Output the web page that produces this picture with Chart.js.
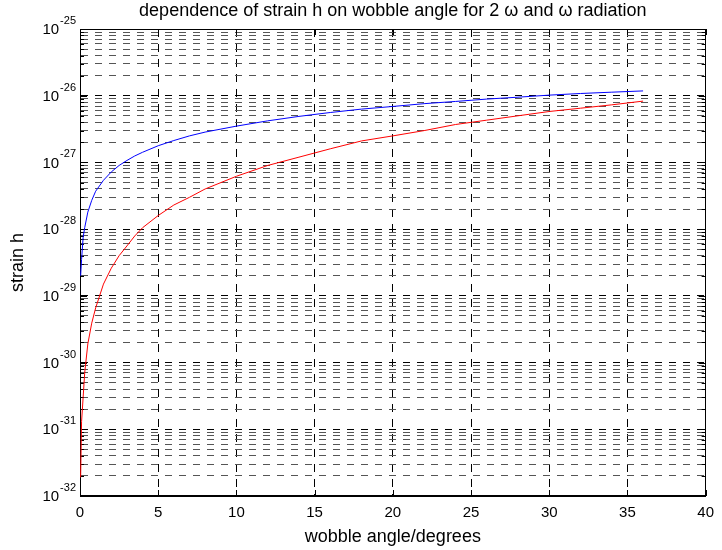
<!DOCTYPE html>
<html>
<head>
<meta charset="utf-8">
<script src="https://cdn.jsdelivr.net/npm/chart.js@4.4.0/dist/chart.umd.min.js"></script>
<style>
  html, body { margin: 0; padding: 0; background: #fff; }
  #wrap { width: 722px; height: 550px; }
</style>
</head>
<body>
<div id="wrap"><canvas id="strain"></canvas></div>
<script>
const FONT = '"Liberation Sans", Arial, Helvetica, sans-serif';

// wobble angle in degrees
const angles = [0.04, 0.1, 0.2, 0.3, 0.5, 0.75, 1, 1.5, 2, 2.5, 3, 3.5, 4, 5, 6, 7, 8,
  10, 12, 14, 16, 18, 20, 22, 24, 26, 28, 30, 32, 34, 36];

// blue curve (upper)
const strainBlue = [2.0e-29, 3.5e-29, 7.5e-29, 1.05e-28, 1.8e-28, 2.7e-28, 3.7e-28, 5.4e-28,
  7.2e-28, 9.0e-28, 1.07e-27, 1.25e-27, 1.42e-27, 1.78e-27, 2.13e-27, 2.5e-27, 2.85e-27,
  3.5e-27, 4.2e-27, 4.9e-27, 5.6e-27, 6.3e-27, 6.9e-27, 7.6e-27, 8.2e-27, 8.9e-27,
  9.5e-27, 1.02e-26, 1.08e-26, 1.13e-26, 1.18e-26];

// red curve (lower)
const strainRed = [1.9e-32, 1.3e-31, 3.0e-31, 7.0e-31, 1.9e-30, 3.9e-30, 6.6e-30, 1.5e-29,
  2.6e-29, 4.0e-29, 5.6e-29, 7.9e-29, 1.05e-28, 1.6e-28, 2.3e-28, 3.0e-28, 4.0e-28,
  6.2e-28, 9.0e-28, 1.2e-27, 1.6e-27, 2.1e-27, 2.5e-27, 3.0e-27, 3.7e-27, 4.3e-27,
  5.0e-27, 5.8e-27, 6.5e-27, 7.3e-27, 8.3e-27];

const xTicks = [0, 5, 10, 15, 20, 25, 30, 35, 40];
const decades = [-32, -31, -30, -29, -28, -27, -26, -25];

// every 1..9 x 10^n, like a matlab minor grid
const yTickValues = [];
decades.forEach(n => {
  if (n === -25) { yTickValues.push(1e-25); return; }
  for (let k = 1; k <= 9; k++) yTickValues.push(Number(k + 'e' + n));
});

const isDecade = v => Math.abs(Math.log10(v) - Math.round(Math.log10(v))) < 1e-9;

// box, inward ticks and 10^n labels; drawn under the curves
const frame = {
  id: 'frame',
  beforeDatasetsDraw(chart) {
    const { ctx, chartArea: a, scales: { x, y } } = chart;
    ctx.save();
    ctx.strokeStyle = '#000';
    ctx.lineWidth = 1;
    ctx.strokeRect(Math.round(a.left) + 0.5, Math.round(a.top) + 0.5,
      Math.round(a.right - a.left) - 1, Math.round(a.bottom - a.top) - 1);

    ctx.beginPath();
    xTicks.forEach(v => {
      const px = Math.round(x.getPixelForValue(v)) + 0.5;
      ctx.moveTo(px, a.bottom); ctx.lineTo(px, a.bottom - 6);
      ctx.moveTo(px, a.top); ctx.lineTo(px, a.top + 6);
    });
    yTickValues.forEach(v => {
      const py = Math.round(y.getPixelForValue(v)) + 0.5;
      const len = isDecade(v) ? 7 : 4;
      ctx.moveTo(a.left, py); ctx.lineTo(a.left + len, py);
      ctx.moveTo(a.right, py); ctx.lineTo(a.right - len, py);
    });
    ctx.stroke();

    ctx.fillStyle = '#000';
    ctx.textBaseline = 'middle';
    decades.forEach(n => {
      const py = y.getPixelForValue(Number('1e' + n));
      const exp = String(n);
      ctx.font = '11px ' + FONT;
      const ew = ctx.measureText(exp).width;
      const ex = a.left - 4 - ew;
      ctx.textAlign = 'left';
      ctx.fillText(exp, ex, py - 8);
      ctx.font = '15px ' + FONT;
      ctx.textAlign = 'right';
      ctx.fillText('10', ex - 1, py + 1);
    });
    ctx.restore();
  }
};

new Chart(document.getElementById('strain'), {
  type: 'line',
  data: {
    datasets: [
      {
        label: '2 omega',
        data: angles.map((a, i) => ({ x: a, y: strainBlue[i] })),
        borderColor: '#0000ff',
        borderWidth: 1,
        pointRadius: 0,
        tension: 0
      },
      {
        label: 'omega',
        data: angles.map((a, i) => ({ x: a, y: strainRed[i] })),
        borderColor: '#ff0000',
        borderWidth: 1,
        pointRadius: 0,
        tension: 0
      }
    ]
  },
  options: {
    responsive: true,
    maintainAspectRatio: false,
    animation: false,
    layout: { padding: { right: 11 } },
    plugins: {
      legend: { display: false },
      tooltip: { enabled: false },
      title: {
        display: true,
        text: 'dependence of strain h on wobble angle for 2 \u03c9 and \u03c9 radiation',
        color: '#000',
        font: { family: FONT, size: 18, weight: 'normal' },
        padding: { top: 0, bottom: 7.4 },
        fullSize: false
      }
    },
    scales: {
      x: {
        type: 'linear',
        min: 0,
        max: 40,
        afterBuildTicks(s) { s.ticks = xTicks.map(v => ({ value: v })); },
        ticks: { color: '#000', font: { family: FONT, size: 15 }, padding: 8, maxRotation: 0 },
        grid: { color: '#000', lineWidth: 1, drawTicks: false },
        border: { color: '#000', width: 1, dash: [8, 7] },
        title: {
          display: true,
          text: 'wobble angle/degrees',
          color: '#000',
          font: { family: FONT, size: 18 },
          padding: { top: 0, bottom: 2 }
        },
        afterFit(s) { s.height = 54; }
      },
      y: {
        type: 'logarithmic',
        min: 1e-32,
        max: 1e-25,
        afterBuildTicks(s) { s.ticks = yTickValues.map(v => ({ value: v })); },
        ticks: { display: false },
        grid: {
          color: c => (c.tick && isDecade(c.tick.value) ? '#000' : '#555'),
          lineWidth: 1,
          drawTicks: false
        },
        border: { color: '#000', width: 1, dash: [7, 7] },
        title: {
          display: true,
          text: 'strain h',
          color: '#000',
          font: { family: FONT, size: 18 },
          padding: { top: 7, bottom: 0 }
        },
        afterFit(s) { s.width = 80; }
      }
    }
  },
  plugins: [frame]
});
</script>
</body>
</html>
